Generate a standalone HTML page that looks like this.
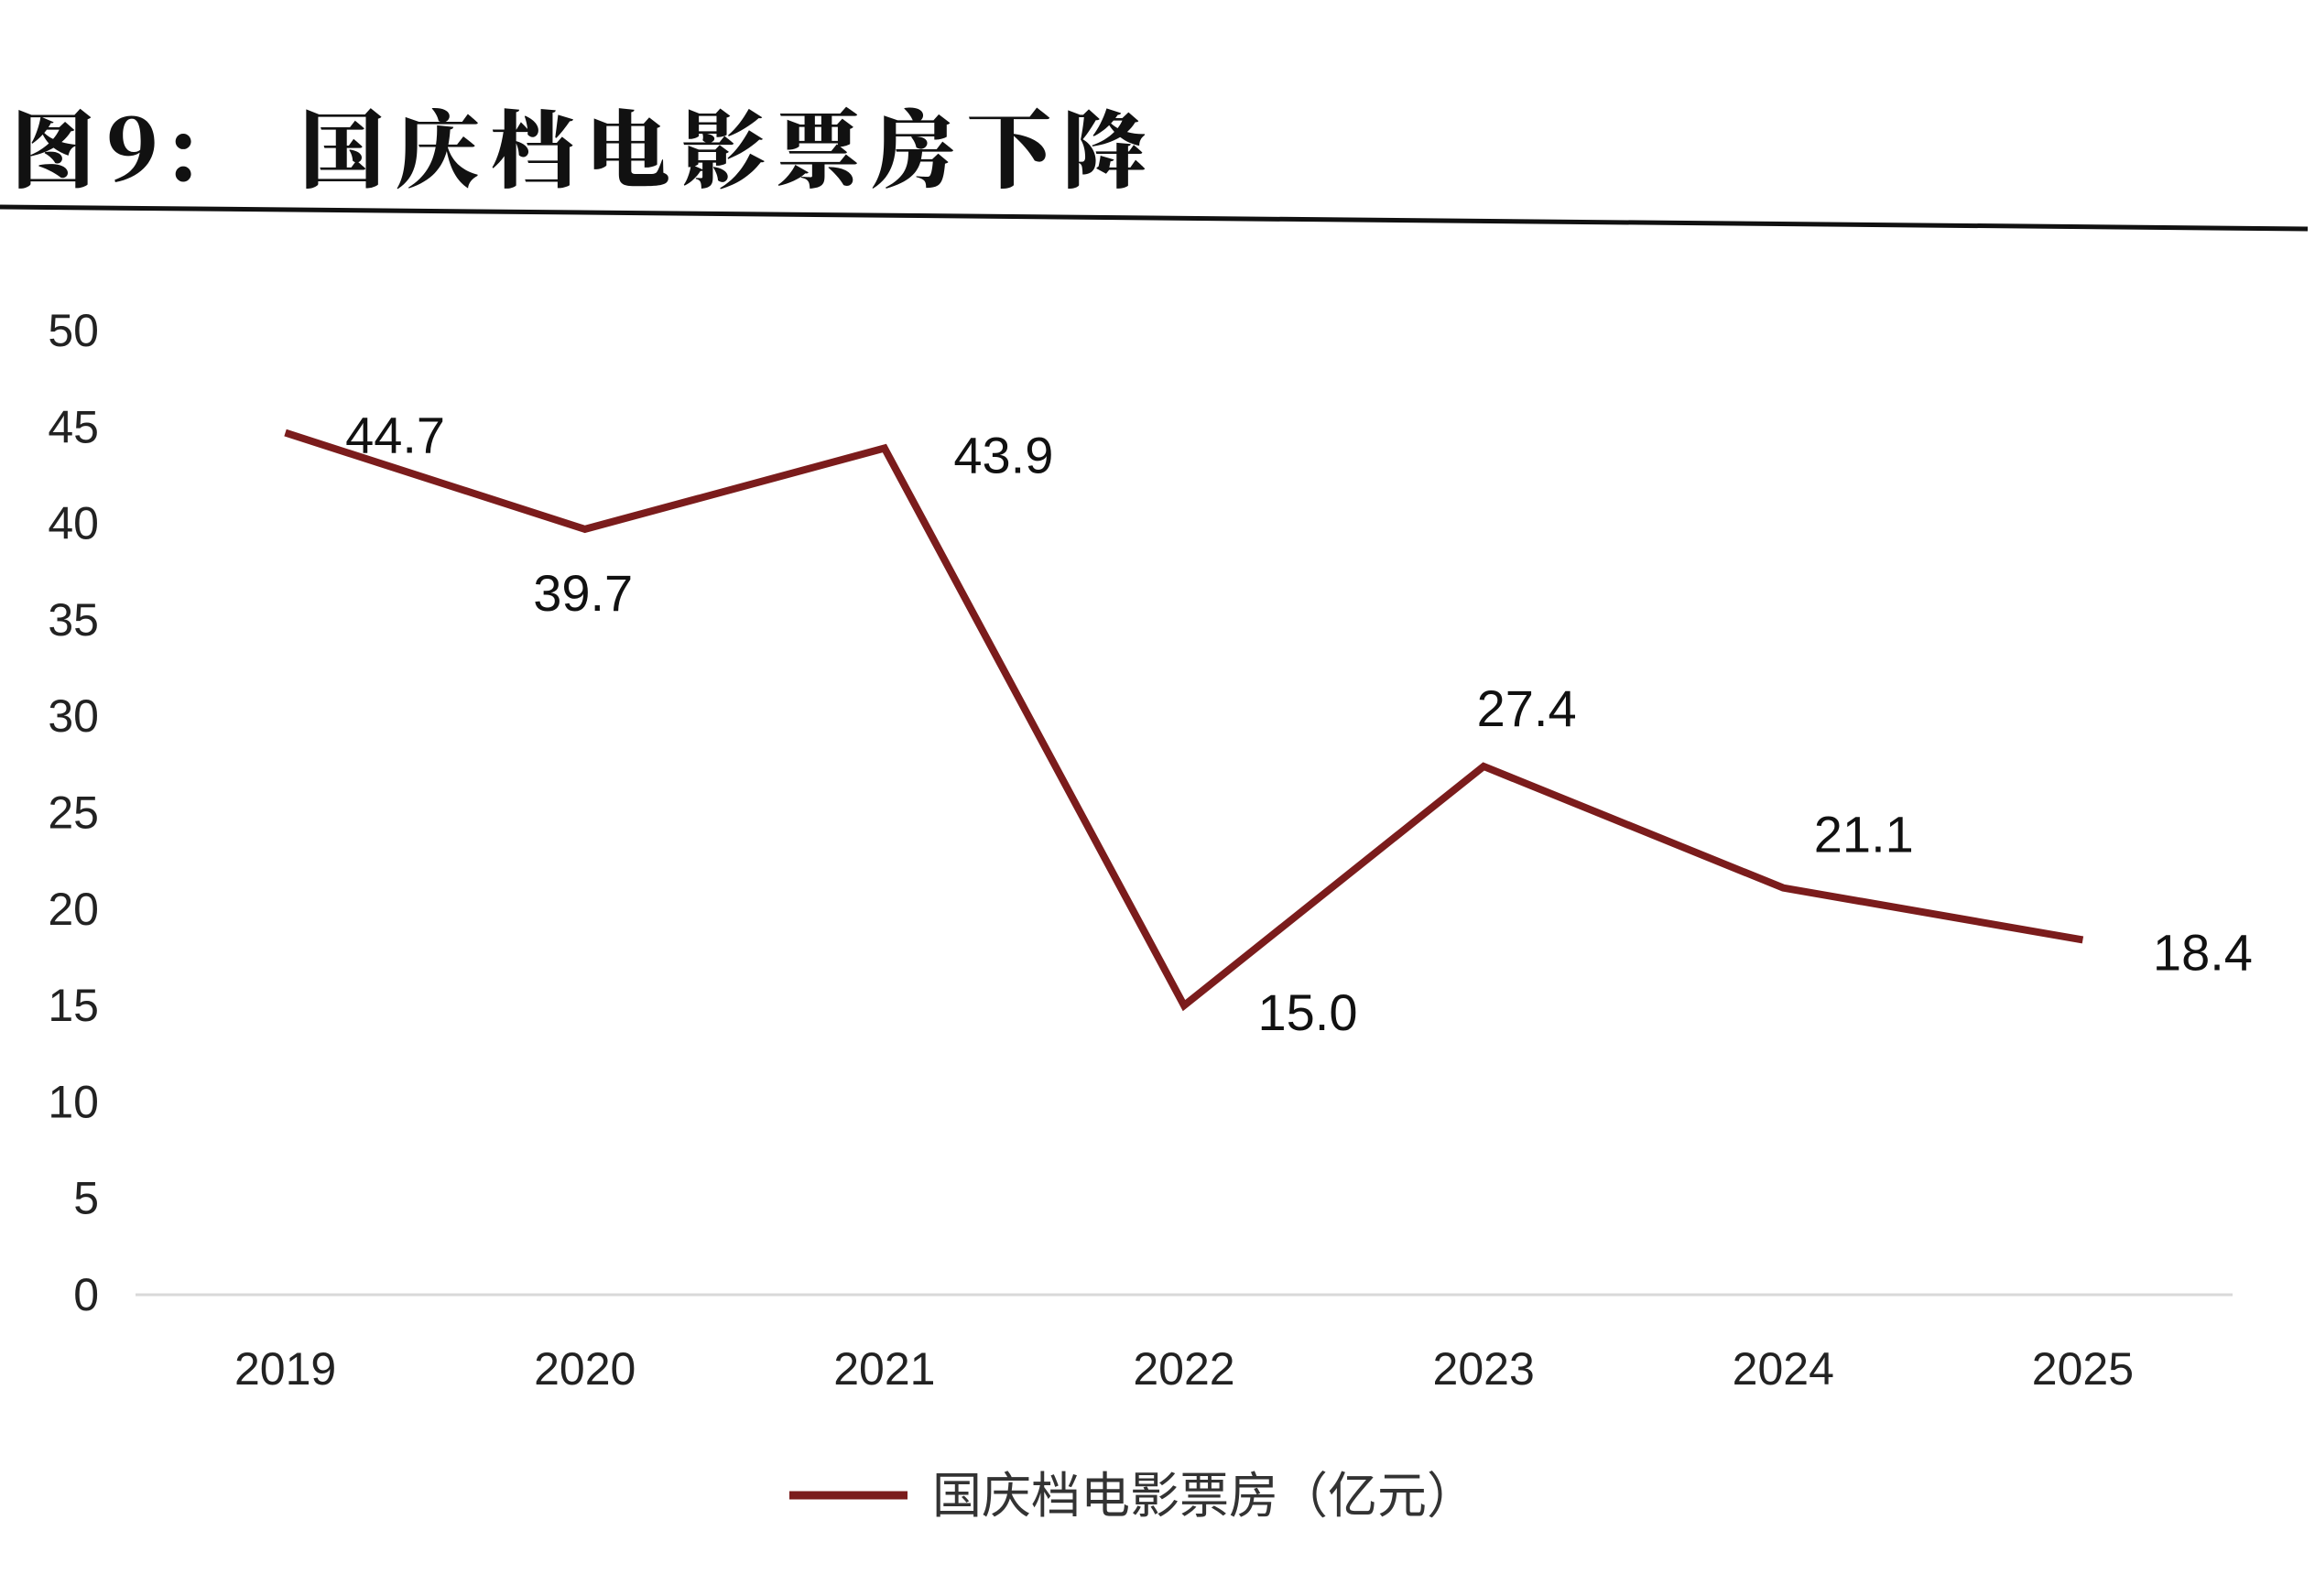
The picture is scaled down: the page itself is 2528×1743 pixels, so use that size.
<!DOCTYPE html>
<html><head><meta charset="utf-8"><style>
html,body{margin:0;padding:0;background:#fff;}
body{width:2528px;height:1743px;overflow:hidden;position:relative;font-family:"Liberation Sans","Noto Sans CJK SC",sans-serif;}
</style></head><body>
<div style="position:absolute;left:12px;top:92px;font-family:'Noto Serif CJK SC','Noto Sans CJK SC',serif;font-weight:900;font-size:92px;color:#111;white-space:nowrap;letter-spacing:12px;">图9:<span style="display:inline-block;width:100px"></span>国庆档电影票房下降</div>
<svg width="2528" height="1743" style="position:absolute;left:0;top:0">
<line x1="0" y1="226" x2="2520" y2="250" stroke="#111" stroke-width="5"/>
<g id="g"></g>
</svg>
<script>
const categories=["2019","2020","2021","2022","2023","2024","2025"];
const values=[44.7,39.7,43.9,15.0,27.4,21.1,18.4];
const labels=["44.7","39.7","43.9","15.0","27.4","21.1","18.4"];
const yTicks=[0,5,10,15,20,25,30,35,40,45,50];
const NS="http://www.w3.org/2000/svg";
const g=document.getElementById('g');
const x0=148,x1=2438,y0=1414,y1=361;
const bw=(x1-x0)/categories.length;
const X=i=>x0+bw*(i+0.5);
const Y=v=>y0-(v/50)*(y0-y1);
function mk(t,a,txt){const e=document.createElementNS(NS,t);for(const k in a)e.setAttribute(k,a[k]);if(txt!==undefined)e.textContent=txt;g.appendChild(e);return e;}
const ax=mk('line',{x1:x0,y1:y0,x2:x1,y2:y0,stroke:'#d9d9d9','stroke-width':3});


yTicks.forEach(v=>{const t=mk('text',{x:108,y:Y(v)+17,'text-anchor':'end','font-size':50,fill:'#222'},String(v));

});
categories.forEach((c,i)=>{const t=mk('text',{x:X(i),y:1512,'text-anchor':'middle','font-size':50,fill:'#222'},c);

});
const line=mk('polyline',{points:values.map((v,i)=>X(i)+','+Y(v)).join(' '),fill:'none',stroke:'#7b1c1c','stroke-width':8,'stroke-linejoin':'miter'});


const off=[[120,3],[-2,70],[130,8],[135,8],[47,-63],[88,-58],[131,14]];
values.forEach((v,i)=>{const t=mk('text',{x:X(i)+off[i][0],y:Y(v)+off[i][1]+19,'text-anchor':'middle','font-size':56,fill:'#111'},labels[i]);

});
const ll=mk('line',{x1:862,y1:1633,x2:991,y2:1633,stroke:'#7b1c1c','stroke-width':9});


const lt=mk('text',{x:1018,y:1652,'font-size':54,fill:'#333'},'国庆档电影票房（亿元）');


</script>
</body></html>
